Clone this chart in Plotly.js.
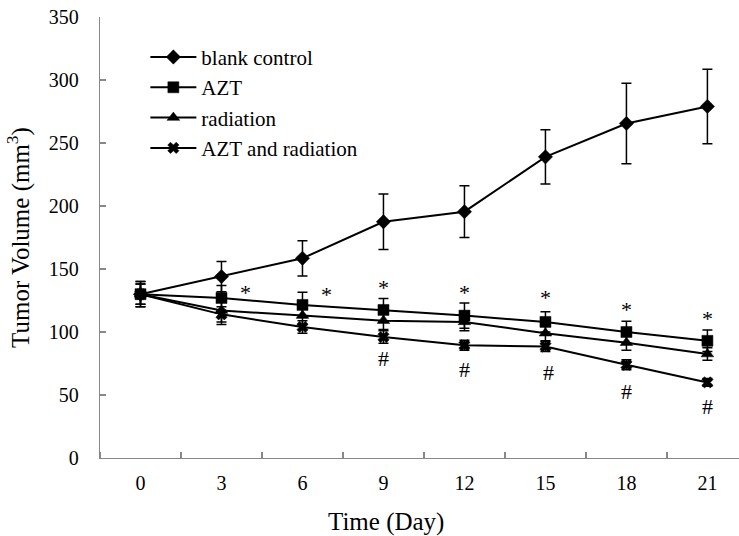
<!DOCTYPE html>
<html>
<head>
<meta charset="utf-8">
<script src="https://cdn.plot.ly/plotly-3.0.1.min.js"></script>
<style>html,body{margin:0;padding:0;background:#fff;}</style>
</head>
<body>
<div id="chart" style="width:739px;height:536px;"></div>
<script>
var days = [0, 3, 6, 9, 12, 15, 18, 21];
var dayLabels = ['0', '3', '6', '9', '12', '15', '18', '21'];
var seriesNames = ['blank control', 'AZT', 'radiation', 'AZT and radiation'];
var xTitle = 'Time (Day)';
var yTitle = 'Tumor Volume (mm<sup>3</sup>)';

var blankControl = [130, 144, 158.5, 187.5, 195.5, 239, 265.5, 279];
var blankControlErr = [10, 12, 14, 22, 20.5, 21.5, 32, 29.5];
var azt = [130, 127, 121.5, 117.5, 113, 108, 100, 93];
var aztErr = [10, 10, 10, 9, 10, 8, 8.5, 8.5];
var radiation = [130, 117, 113, 109, 108, 99, 91.5, 82.5];
var radiationErr = [8, 11, 7, 7, 7, 6, 6, 5];
var aztRadiation = [130, 114, 104, 96, 89.5, 88.5, 74, 60];
var aztRadiationErr = [8, 6, 5, 5, 4, 4, 4, 3];

var starX = [3.9, 6.9, 9, 12, 15, 18, 21];
var starY = [131, 129.5, 135, 131, 127, 117.5, 110.5];
var hashX = [9, 12, 15.1, 18, 21];
var hashY = [79, 70, 67.5, 53, 41];

var SERIF = 'Liberation Serif, Times New Roman, serif';
var values = [blankControl, azt, radiation, aztRadiation];
var errs = [blankControlErr, aztErr, radiationErr, aztRadiationErr];
var symbols = ['diamond', 'square', 'triangle-up', 'x'];
var sizes = [11, 11, 11, 10];

var traces = values.map(function (v, i) {
  return {
    type: 'scatter',
    mode: 'lines+markers',
    name: seriesNames[i],
    legendgroup: 'g' + i,
    x: days,
    y: v,
    line: {color: '#000', width: 2},
    marker: {symbol: symbols[i], size: sizes[i], color: '#000', line: {color: '#000', width: 0.5}},
    error_y: {type: 'data', array: errs[i], visible: true, color: '#000', thickness: 1.5, width: 5}
  };
});

var annotations = [];
starX.forEach(function (x, i) {
  annotations.push({x: x, y: starY[i], xref: 'x', yref: 'y', text: '*', showarrow: false,
    font: {size: 22, color: '#000', family: SERIF}, xanchor: 'center', yanchor: 'middle'});
});
hashX.forEach(function (x, i) {
  annotations.push({x: x, y: hashY[i], xref: 'x', yref: 'y', text: '#', showarrow: false,
    font: {size: 22, color: '#000', family: SERIF}, xanchor: 'center', yanchor: 'middle'});
});
// x-axis title, placed where the reference centres it
annotations.push({x: 0.4476, y: -0.145, xref: 'paper', yref: 'paper', text: xTitle, showarrow: false,
  font: {size: 25, color: '#000', family: SERIF}, xanchor: 'center', yanchor: 'middle'});

var layout = {
  width: 739,
  height: 536,
  margin: {l: 100, r: 0, t: 17, b: 78},
  paper_bgcolor: '#fff',
  plot_bgcolor: '#fff',
  font: {family: SERIF, color: '#000', size: 20},
  showlegend: true,
  legend: {
    x: 0.071, y: 0.955, xanchor: 'left', yanchor: 'top',
    font: {size: 21, color: '#000', family: SERIF},
    tracegroupgap: 0,
    itemwidth: 46,
    bgcolor: 'rgba(0,0,0,0)'
  },
  xaxis: {
    range: [-1.5, 22.17],
    tickmode: 'array',
    tickvals: days,
    ticktext: dayLabels,
    ticks: '',
    showline: true,
    linecolor: '#888',
    linewidth: 1.2,
    showgrid: false,
    zeroline: false,
    ticklabelstandoff: 7,
    tickfont: {family: SERIF, size: 20, color: '#000'},
    minor: {tickmode: 'linear', tick0: 1.5, dtick: 3, ticks: 'inside', ticklen: 6, tickcolor: '#888', tickwidth: 1.2, showgrid: false}
  },
  yaxis: {
    range: [0, 350],
    tickmode: 'linear',
    tick0: 0,
    dtick: 50,
    ticks: 'inside',
    ticklen: 6,
    tickcolor: '#888',
    tickwidth: 1.2,
    showline: true,
    linecolor: '#888',
    linewidth: 1.2,
    showgrid: false,
    zeroline: false,
    ticklabelstandoff: 16,
    tickfont: {family: SERIF, size: 20, color: '#000'},
    title: {text: yTitle, font: {size: 25, color: '#000', family: SERIF}, standoff: 12}
  },
  annotations: annotations
};

Plotly.newPlot('chart', traces, layout, {displayModeBar: false, staticPlot: true});
</script>
</body>
</html>
